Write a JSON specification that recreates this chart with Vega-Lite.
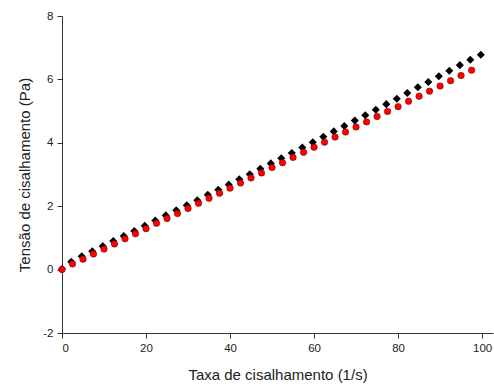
{
  "$schema": "https://vega.github.io/schema/vega-lite/v6.json",
  "width": 431,
  "height": 317,
  "autosize": {"type": "none"},
  "padding": {"left": 62, "top": 16, "right": 1, "bottom": 57},
  "background": "white",
  "config": {
    "view": {"stroke": null},
    "font": "Liberation Sans",
    "axis": {
      "domainColor": "#333333",
      "tickColor": "#333333",
      "labelColor": "#222222",
      "titleColor": "#222222",
      "labelFont": "Liberation Sans",
      "titleFont": "Liberation Sans",
      "labelFontSize": 11.5,
      "titleFontSize": 15,
      "titleFontWeight": "normal",
      "grid": false,
      "tickSize": 5,
      "domainWidth": 1,
      "tickWidth": 1
    }
  },
  "layer": [
    {
      "data": {"values": [
        {"x": 0, "y": 0.02}, {"x": 2.2, "y": 0.25}, {"x": 4.7, "y": 0.42}, {"x": 7.2, "y": 0.58},
        {"x": 9.7, "y": 0.74}, {"x": 12.2, "y": 0.9}, {"x": 14.7, "y": 1.06}, {"x": 17.2, "y": 1.22},
        {"x": 19.7, "y": 1.38}, {"x": 22.2, "y": 1.55}, {"x": 24.7, "y": 1.71}, {"x": 27.2, "y": 1.87},
        {"x": 29.7, "y": 2.03}, {"x": 32.2, "y": 2.19}, {"x": 34.7, "y": 2.36}, {"x": 37.2, "y": 2.52},
        {"x": 39.7, "y": 2.68}, {"x": 42.2, "y": 2.85}, {"x": 44.7, "y": 3.01}, {"x": 47.2, "y": 3.18},
        {"x": 49.7, "y": 3.35}, {"x": 52.2, "y": 3.51}, {"x": 54.7, "y": 3.68}, {"x": 57.2, "y": 3.85},
        {"x": 59.7, "y": 4.02}, {"x": 62.2, "y": 4.19}, {"x": 64.7, "y": 4.36}, {"x": 67.2, "y": 4.53},
        {"x": 69.7, "y": 4.7}, {"x": 72.2, "y": 4.87}, {"x": 74.7, "y": 5.04}, {"x": 77.2, "y": 5.22},
        {"x": 79.7, "y": 5.39}, {"x": 82.2, "y": 5.57}, {"x": 84.7, "y": 5.75}, {"x": 87.2, "y": 5.92},
        {"x": 89.7, "y": 6.1}, {"x": 92.2, "y": 6.27}, {"x": 94.7, "y": 6.45}, {"x": 97.2, "y": 6.62},
        {"x": 99.7, "y": 6.78}
      ]},
      "mark": {"type": "point", "shape": "diamond", "filled": true, "color": "black", "size": 65, "opacity": 1},
      "encoding": {
        "x": {"field": "x", "type": "quantitative", "scale": {"domain": [0, 102.6], "nice": false, "zero": false},
          "axis": {"values": [0, 20, 40, 60, 80, 100], "title": "Taxa de cisalhamento (1/s)", "titlePadding": 14, "labelPadding": 4}},
        "y": {"field": "y", "type": "quantitative", "scale": {"domain": [-2, 8], "nice": false},
          "axis": {"values": [-2, 0, 2, 4, 6, 8], "labelExpr": "datum.value < 0 ? '-' + abs(datum.value) : datum.label", "title": "Tensão de cisalhamento (Pa)", "titlePadding": 10, "labelPadding": 4}}
      }
    },
    {
      "data": {"values": [
        {"x": 0, "y": 0}, {"x": 2.5, "y": 0.18}, {"x": 5, "y": 0.33}, {"x": 7.5, "y": 0.49},
        {"x": 10, "y": 0.65}, {"x": 12.5, "y": 0.81}, {"x": 15, "y": 0.97}, {"x": 17.5, "y": 1.13},
        {"x": 20, "y": 1.29}, {"x": 22.5, "y": 1.46}, {"x": 25, "y": 1.61}, {"x": 27.5, "y": 1.77},
        {"x": 30, "y": 1.93}, {"x": 32.5, "y": 2.09}, {"x": 35, "y": 2.25}, {"x": 37.5, "y": 2.41},
        {"x": 40, "y": 2.57}, {"x": 42.5, "y": 2.73}, {"x": 45, "y": 2.89}, {"x": 47.5, "y": 3.05},
        {"x": 50, "y": 3.22}, {"x": 52.5, "y": 3.37}, {"x": 55, "y": 3.54}, {"x": 57.5, "y": 3.7},
        {"x": 60, "y": 3.86}, {"x": 62.5, "y": 4.02}, {"x": 65, "y": 4.18}, {"x": 67.5, "y": 4.34},
        {"x": 70, "y": 4.5}, {"x": 72.5, "y": 4.66}, {"x": 75, "y": 4.83}, {"x": 77.5, "y": 4.99},
        {"x": 80, "y": 5.14}, {"x": 82.5, "y": 5.31}, {"x": 85, "y": 5.47}, {"x": 87.5, "y": 5.63},
        {"x": 90, "y": 5.79}, {"x": 92.5, "y": 5.96}, {"x": 95, "y": 6.12}, {"x": 97.5, "y": 6.29}
      ]},
      "mark": {"type": "point", "shape": "circle", "filled": true, "fill": "#ff0000", "stroke": "#550000", "strokeWidth": 0.5, "size": 42, "opacity": 1},
      "encoding": {
        "x": {"field": "x", "type": "quantitative"},
        "y": {"field": "y", "type": "quantitative"}
      }
    }
  ]
}
